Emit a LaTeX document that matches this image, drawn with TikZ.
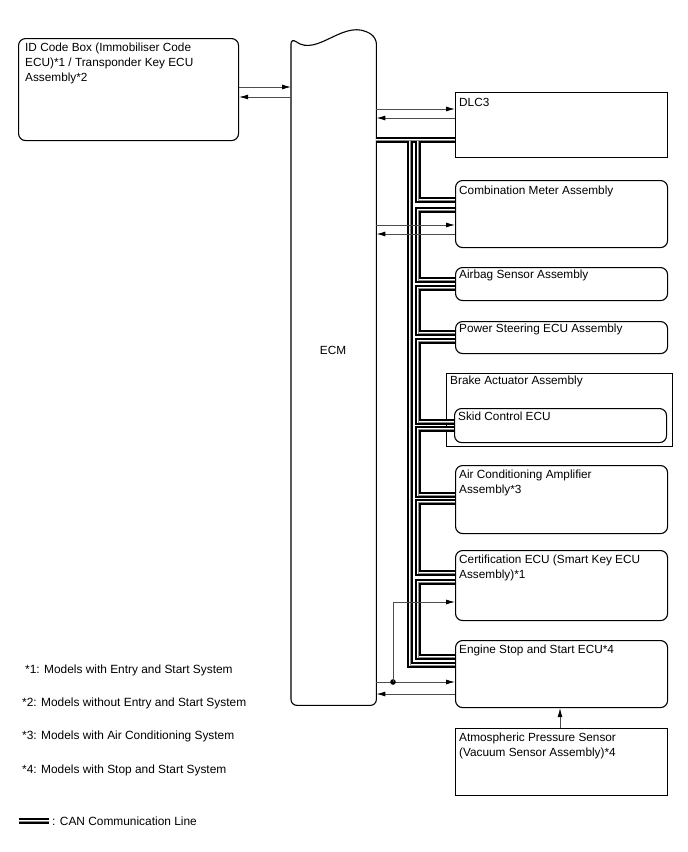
\documentclass[tikz,border=0pt]{standalone}
\usepackage{fontspec}
\setmainfont{Liberation Sans}
\usetikzlibrary{positioning, arrows.meta, calc}
\colorlet{wire}{black!70}
\colorlet{canmid}{black!45}
\tikzset{
  unit/.style    ={draw, line width=1.1pt, rounded corners=7pt, anchor=north west,
                   minimum width=212pt, inner sep=0pt},
  plain/.style   ={unit, rounded corners=0pt},
  caption/.style ={anchor=north west, align=left, inner sep=0pt,
                   font=\fontsize{11.8}{15}\selectfont},
  note/.style    ={anchor=west, inner sep=0pt, font=\fontsize{11.9}{13}\selectfont},
  sig/.style     ={draw=wire, line width=0.9pt,
                   -{Latex[length=9pt, width=5pt, color=black]}},
  can/.style     ={draw=black, line width=5.6pt,
                   postaction={draw=white, line width=2.6pt},
                   postaction={draw=canmid, line width=0.6pt}},
}
\begin{document}
\begin{tikzpicture}[x=1pt, y=-1pt]
\useasboundingbox (0,0) rectangle (688,852);

% ECM with wavy top
\node[anchor=north west, minimum width=85pt, minimum height=667pt, inner sep=0pt] (ecm) at (291,38) {};
\draw[line width=1.1pt, rounded corners=6pt] (ecm.north west)
  .. controls (318,58) and (345,16) .. (ecm.north east)
  -- (ecm.south east) -- (ecm.south west) -- cycle;
\node[font=\fontsize{11.8}{13}\selectfont] (ecm-l) at (333,350) {ECM};

% left unit
\node[unit, minimum width=220pt, minimum height=102pt] (idb) at (18,38) {};
\node[caption] (idb-l) at ([shift={(7pt,-5pt)}]idb.north west)
  {ID Code Box (Immobiliser Code\\ECU)*1 / Transponder Key ECU\\Assembly*2};

% right units
\node[plain, minimum height=65pt] (dlc) at (455,92) {};
\node[caption] (dlc-l) at ([shift={(4pt,-6pt)}]dlc.north west) {DLC3};
\node[unit, minimum height=67pt] (cm) at (455,180) {};
\node[caption] (cm-l) at ([shift={(4pt,-6pt)}]cm.north west) {Combination Meter Assembly};
\node[unit, minimum height=33pt] (ab) at (455,267) {};
\node[caption] (ab-l) at ([shift={(4pt,-3pt)}]ab.north west) {Airbag Sensor Assembly};
\node[unit, minimum height=32pt] (ps) at (455,321) {};
\node[caption] (ps-l) at ([shift={(4pt,-3pt)}]ps.north west) {Power Steering ECU Assembly};
\node[plain, minimum width=226pt, minimum height=73pt] (bra) at (446,373) {};
\node[caption] (bra-l) at ([shift={(4pt,-3pt)}]bra.north west) {Brake Actuator Assembly};
\node[unit, minimum height=34pt] (skid) at (454,408) {};
\node[caption] (skid-l) at ([shift={(4pt,-4pt)}]skid.north west) {Skid Control ECU};
\node[unit, minimum height=68pt] (ac) at (455,465) {};
\node[caption] (ac-l) at ([shift={(4pt,-5pt)}]ac.north west) {Air Conditioning Amplifier\\Assembly*3};
\node[unit, minimum height=70pt] (cert) at (455,550) {};
\node[caption] (cert-l) at ([shift={(4pt,-5pt)}]cert.north west) {Certification ECU (Smart Key ECU\\Assembly)*1};
\node[unit, minimum height=67pt] (ess) at (455,640) {};
\node[caption] (ess-l) at ([shift={(4pt,-5pt)}]ess.north west) {Engine Stop and Start ECU*4};
\node[plain, minimum height=67pt] (aps) at (455,728) {};
\node[caption] (aps-l) at ([shift={(4pt,-5pt)}]aps.north west) {Atmospheric Pressure Sensor\\(Vacuum Sensor Assembly)*4};

% CAN bus
\coordinate (busL) at (410,140);
\coordinate (busR) at (418,140);
\draw[can]
  (ecm.east |- 0,140) -- (dlc.west |- 0,140)
  (busL) |- (ess.west |- 0,665)
  (busR) |- (cm.west |- 0,200)
  (cm.west |- 0,210) -| (418,280) -- (ab.west |- 0,280)
  (ab.west |- 0,288) -| (418,333) -- (ps.west |- 0,333)
  (ps.west |- 0,341) -| (418,422) -- (skid.west |- 0,422)
  (skid.west |- 0,429) -| (418,495) -- (ac.west |- 0,495)
  (ac.west |- 0,502) -| (418,573) -- (cert.west |- 0,573)
  (cert.west |- 0,582) -| (418,657) -- (ess.west |- 0,657);

% signal lines
\draw[sig] (idb.east |- 0,87) -- (ecm.west |- 0,87);
\draw[sig] (ecm.west |- 0,97) -- (idb.east |- 0,97);
\draw[sig] (ecm.east |- 0,109) -- (dlc.west |- 0,109);
\draw[sig] (dlc.west |- 0,118) -- (ecm.east |- 0,118);
\draw[sig] (ecm.east |- 0,225) -- (cm.west |- 0,225);
\draw[sig] (cm.west |- 0,234) -- (ecm.east |- 0,234);
\draw[sig] (ecm.east |- 0,682) -- (ess.west |- 0,682);
\draw[sig] (ess.west |- 0,694) -- (ecm.east |- 0,694);
\coordinate (tap) at (393,682);
\fill (tap) circle (2.8pt);
\draw[sig] (tap) |- (cert.west |- 0,602);
\draw[sig] (aps.north -| 0,0) ++(560,0) coordinate (aps-up) -- (ess.south -| aps-up);

% footnotes
\node[note] (n1) at (25,670) {*1: Models with Entry and Start System};
\node[note] (n2) at (22,703) {*2: Models without Entry and Start System};
\node[note] (n3) at (22,736) {*3: Models with Air Conditioning System};
\node[note] (n4) at (22,770) {*4: Models with Stop and Start System};

% legend
\coordinate (lg) at (19,821);
\draw[can] (lg) -- ++(30,0) coordinate (lg-e);
\node[note] (lg-l) at ([xshift=3pt]lg-e) {: CAN Communication Line};

\end{tikzpicture}
\end{document}
